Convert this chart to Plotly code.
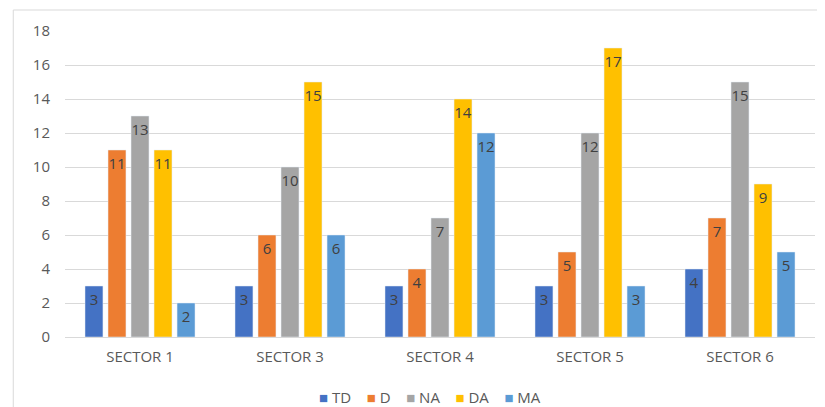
import plotly.graph_objects as go

categories = ["SECTOR 1", "SECTOR 3", "SECTOR 4", "SECTOR 5", "SECTOR 6"]
series_names = ["TD", "D", "NA", "DA", "MA"]
td = [3, 3, 3, 3, 4]
d = [11, 6, 4, 5, 7]
na = [13, 10, 7, 12, 15]
da = [11, 15, 14, 17, 9]
ma = [2, 6, 12, 3, 5]
values = [td, d, na, da, ma]
colors = ["#4472C4", "#ED7D31", "#A5A5A5", "#FFC000", "#5B9BD5"]
y_ticks = [0, 2, 4, 6, 8, 10, 12, 14, 16, 18]

fig = go.Figure()
for name, vals, col in zip(series_names, values, colors):
    fig.add_trace(go.Bar(
        x=categories, y=vals, name=name, marker_color=col,
        text=[str(v) for v in vals], textposition="inside",
        insidetextanchor="end", textangle=0,
        textfont=dict(color="#404040", size=15, family="Open Sans"),
        constraintext="none", showlegend=False,
    ))

# legend drawn as one text line built from the series names and colours
legend_text = "&nbsp;&nbsp;&nbsp;&nbsp;".join(
    f"<span style='color:{c}'>■</span>&nbsp;{n}" for n, c in zip(series_names, colors)
)
fig.add_annotation(text=legend_text, xref="paper", yref="paper", x=0.487, y=-0.196,
                   xanchor="center", yanchor="middle", showarrow=False,
                   font=dict(size=15, color="#595959", family="Open Sans"))

fig.update_layout(
    width=817, height=399,
    margin=dict(l=57, r=10, t=23, b=70, autoexpand=False),
    paper_bgcolor="white", plot_bgcolor="white",
    barmode="group", bargap=0.233, bargroupgap=0.22,
    font=dict(family="Open Sans", color="#595959", size=15),
    uniformtext=dict(mode="show", minsize=15),
)
fig.update_yaxes(range=[0, 18], tickvals=y_ticks, showgrid=True, gridcolor="#D9D9D9",
                 zeroline=False, showline=False, ticks="", ticklabelstandoff=14,
                 tickfont=dict(size=15, color="#595959"))
fig.update_xaxes(showline=True, linecolor="#D9D9D9", ticks="", ticklabelstandoff=6,
                 tickfont=dict(size=15, color="#595959"))
fig.add_shape(type="rect", xref="paper", yref="paper", x0=-0.069, x1=1.007, y0=-0.4, y1=1.0686,
              line=dict(color="#D9D9D9", width=1), fillcolor="rgba(0,0,0,0)", layer="below")
fig.write_html("out.html")
